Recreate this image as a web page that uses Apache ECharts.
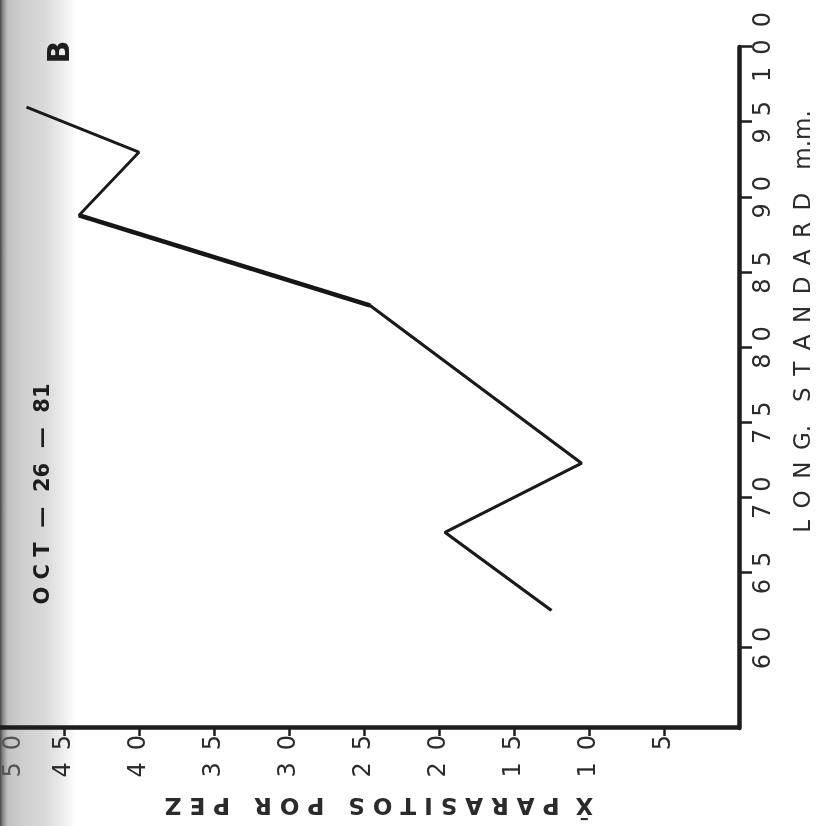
<!DOCTYPE html>
<html>
<head>
<meta charset="utf-8">
<script src="https://cdn.jsdelivr.net/npm/echarts@6/dist/echarts.min.js"></script>
<style>
  html, body { margin: 0; padding: 0; width: 825px; height: 826px; overflow: hidden; background: #fff; }
  /* shaded binding edge of the page */
  #edge { position: absolute; left: 0; top: 0; width: 80px; height: 826px;
    background: linear-gradient(to right, #474747 0px, #8c8c8c 3px, #c2c2c2 8px, #d0d0d0 25px, #d9d9d9 45px, #ececec 62px, #ffffff 76px); }
  /* the figure is printed turned a quarter turn counter-clockwise */
  #chart { position: absolute; left: 0; top: 0; width: 826px; height: 825px;
    transform-origin: 0 0; transform: translate(0, 826px) rotate(-90deg); }
</style>
</head>
<body>
<div id="edge"></div>
<div id="chart"></div>
<script>
// Standard length (mm) of the fish groups and the mean number of parasites per fish
const lengthMM      = [96.0, 93.0, 88.8, 82.8, 72.3, 67.7, 62.5];
const meanParasites = [47.5, 40.0, 44.0, 24.6, 10.5, 19.6, 12.5];

// Tick values of both axes
const lengthTicks   = [60, 65, 70, 75, 80, 85, 90, 95, 100];
const parasiteTicks = [5, 10, 15, 20, 25, 30, 35, 40, 45, 50];

const FONT = 'DejaVu Sans';
const INK = '#1d1d1d';
const LABEL = '#2b2b2b';
const EN = '\u2002';
const spaced = v => String(v).split('').join(EN);
const points = lengthMM.map((l, i) => [l, meanParasites[i]]);

const chart = echarts.init(document.getElementById('chart'), null, { renderer: 'canvas' });

chart.setOption({
  animation: false,
  grid: { left: 98, right: 47, top: -11, bottom: 86, outerBoundsMode: 'none', containLabel: false },
  xAxis: {
    type: 'value',
    min: 54.68,
    max: 100,
    splitLine: { show: false },
    axisLine: { lineStyle: { color: INK, width: 4.5 } },
    axisTick: { customValues: lengthTicks, length: 13, lineStyle: { color: INK, width: 2.5 } },
    axisLabel: { customValues: lengthTicks, margin: 13, fontSize: 24, color: LABEL,
      fontFamily: FONT, formatter: spaced },
    name: ['L', 'O', 'N', 'G.', EN + 'S', 'T', 'A', 'N', 'D', 'A', 'R', 'D', EN + 'm.m.'].join(EN),
    nameLocation: 'middle',
    nameGap: 54,
    nameTextStyle: { fontSize: 23, color: LABEL, fontFamily: FONT, padding: [0, 0, 0, 132] }
  },
  yAxis: {
    type: 'value',
    min: 0,
    max: 50,
    splitLine: { show: false },
    axisLine: { lineStyle: { color: INK, width: 4.5 } },
    axisTick: { customValues: parasiteTicks, length: 8, lineStyle: { color: INK, width: 2.5 } },
    axisLabel: {
      customValues: parasiteTicks, margin: 7, fontSize: 24, color: LABEL, fontFamily: FONT,
      // the top label sits squeezed in just under the axis end
      formatter: v => v === 50 ? '{edge|' + spaced(v) + '}' : spaced(v),
      rich: { edge: { fontSize: 24, color: '#555', fontFamily: FONT, padding: [50, 0, 0, 0] } }
    },
    name: 'X\u0304  P A R A S I T O S   P O R   P E Z',
    nameLocation: 'middle',
    nameRotate: 90,
    nameGap: 64,
    nameTextStyle: { fontSize: 23, color: LABEL, fontFamily: FONT, fontWeight: 'bold', padding: [0, 30, 0, 0] }
  },
  graphic: [
    { type: 'text', x: 774, y: 61,
      style: { text: 'B', font: 'bold 30px "DejaVu Sans"', fill: INK, align: 'center', verticalAlign: 'middle' } },
    { type: 'text', x: 332, y: 44,
      style: { text: 'O C T  —  26  —  81', font: 'bold 21px "DejaVu Sans"', fill: INK, align: 'center', verticalAlign: 'middle' } }
  ],
  series: [
    {
      type: 'line',
      data: points,
      symbol: 'none',
      lineStyle: { color: '#1a1a1a', width: 3 }
    },
    {
      // the steep stretch between 88.8 and 82.8 mm is inked heavier
      type: 'line',
      data: points.slice(2, 4),
      symbol: 'none',
      lineStyle: { color: '#161616', width: 4.5 }
    }
  ]
});
</script>
</body>
</html>
